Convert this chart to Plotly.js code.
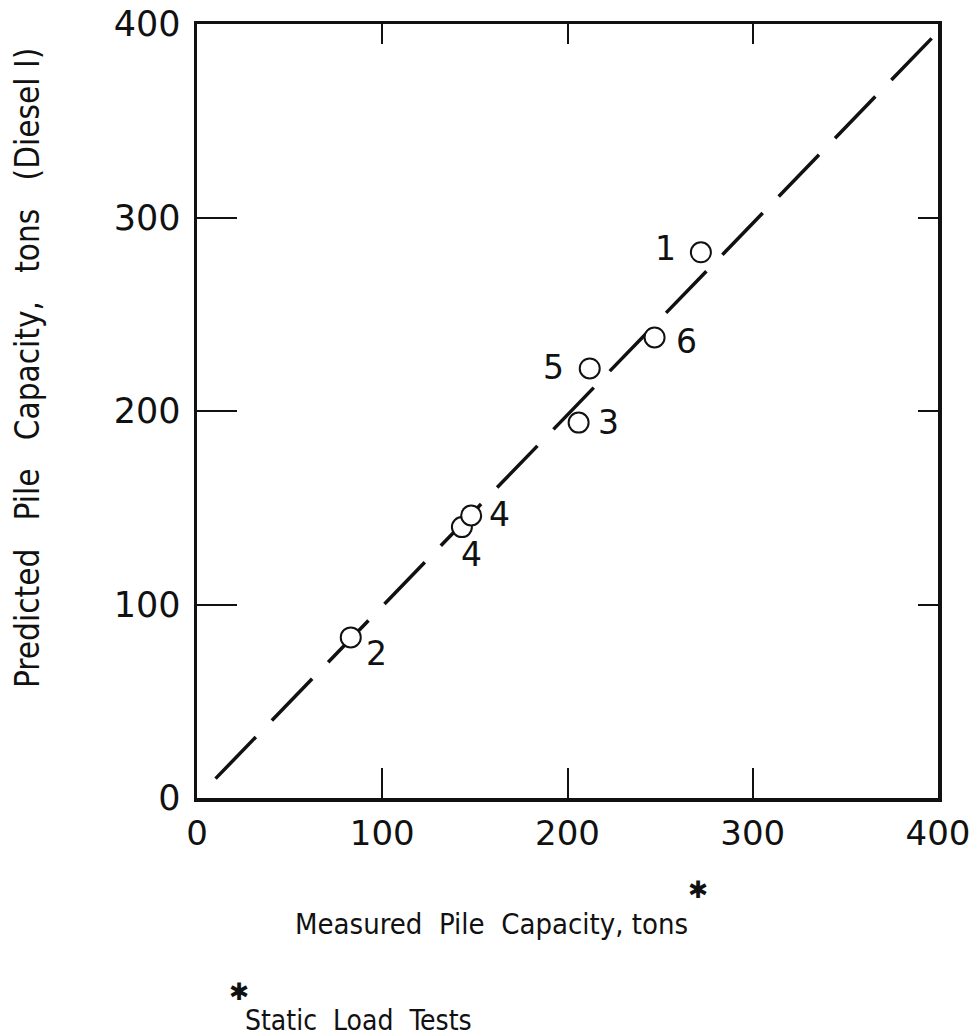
<!DOCTYPE html>
<html>
<head>
<meta charset="utf-8">
<script src="https://cdn.plot.ly/plotly-3.0.1.min.js"></script>
<style>html,body{margin:0;padding:0;background:#fff;}</style>
</head>
<body>
<div id="chart" style="width:975px;height:1036px;"></div>
<script>
// Measured vs predicted pile capacity (tons)
const measured  = [83, 143, 148, 206, 212, 247, 272];
const predicted = [83, 140, 146, 194, 222, 238, 282];
const pileLabels = ['2', '4', '4', '3', '5', '6', '1'];
const lineX = [10, 397];
const lineY = [10, 393];
const tickVals = [0, 100, 200, 300, 400];
const tickText = ['0', '100', '200', '300', '400'];

// label offsets (pixels) relative to each point
const labelDx = [26, 10, 28, 30, -36, 32, -35];
const labelDy = [-16, -27, 1, 0, 1, -4, 4];

const FONT = 'DejaVu Sans, sans-serif';
const FONT_C = '"DejaVu Sans Condensed", "Liberation Sans Narrow", "DejaVu Sans", sans-serif';
const INK = '#111';

const traces = [
  {
    x: lineX, y: lineY, type: 'scatter', mode: 'lines',
    line: {color: INK, width: 3.5, dash: '58px,23px'},
    hoverinfo: 'skip', showlegend: false
  },
  {
    x: measured, y: predicted, type: 'scatter', mode: 'markers',
    marker: {symbol: 'circle', size: 20, color: '#fff', line: {color: INK, width: 2}},
    showlegend: false
  },
  // overlay axes for the short top/right ticks
  {x: [0], y: [0], xaxis: 'x2', yaxis: 'y2', mode: 'markers', marker: {opacity: 0}, hoverinfo: 'skip', showlegend: false}
];

const annotations = measured.map((m, i) => ({
  x: m, y: predicted[i], xref: 'x', yref: 'y', text: pileLabels[i],
  showarrow: false, xshift: labelDx[i], yshift: labelDy[i],
  font: {family: FONT, size: 33, color: INK}
}));

// paper coords helpers: plot area l=197..938, t=24..798
const px = v => (v - 197) / 741;
const py = v => (798 - v) / 774;

annotations.push(
  {xref: 'paper', yref: 'paper', x: px(491), y: py(924), xanchor: 'center', yanchor: 'middle',
   text: 'Measured  Pile  Capacity, tons',
   showarrow: false, font: {family: FONT_C, size: 29, color: INK}},
  {xref: 'paper', yref: 'paper', x: px(698), y: py(890), xanchor: 'center', yanchor: 'middle', text: '✱',
   showarrow: false, font: {family: FONT, size: 24, color: INK}},
  {xref: 'paper', yref: 'paper', x: px(239), y: py(992), xanchor: 'center', yanchor: 'middle', text: '✱',
   showarrow: false, font: {family: FONT, size: 24, color: INK}},
  {xref: 'paper', yref: 'paper', x: px(358), y: py(1020), xanchor: 'center', yanchor: 'middle',
   text: 'Static  Load  Tests',
   showarrow: false, font: {family: FONT_C, size: 28, color: INK}},
  {xref: 'paper', yref: 'paper', x: px(27), y: py(368), xanchor: 'center', yanchor: 'middle',
   text: 'Predicted   Pile   Capacity,   tons   (Diesel I)',
   textangle: -90, showarrow: false, font: {family: FONT_C, size: 33, color: INK}}
);

const layout = {
  width: 975, height: 1036,
  margin: {l: 197, r: 37, t: 24, b: 238},
  paper_bgcolor: '#fff', plot_bgcolor: '#fff',
  showlegend: false,
  font: {family: FONT, color: INK},
  xaxis: {
    range: [0, 400], tickvals: tickVals, ticktext: tickText,
    ticks: 'inside', ticklen: 30, tickwidth: 2, tickcolor: INK,
    showline: true, linecolor: INK, linewidth: 3.5, mirror: true,
    showgrid: false, zeroline: false, ticklabelstandoff: 3,
    tickfont: {family: FONT, size: 34, color: INK}
  },
  yaxis: {
    range: [0, 400], tickvals: tickVals, ticktext: tickText,
    ticks: 'inside', ticklen: 40, tickwidth: 2, tickcolor: INK,
    showline: true, linecolor: INK, linewidth: 3.5, mirror: true,
    showgrid: false, zeroline: false, ticklabelstandoff: 6,
    tickfont: {family: FONT, size: 35, color: INK}
  },
  xaxis2: {
    overlaying: 'x', side: 'top', range: [0, 400], tickvals: [100, 200, 300],
    ticks: 'inside', ticklen: 20, tickwidth: 2, tickcolor: INK,
    showticklabels: false, showgrid: false, zeroline: false, showline: false
  },
  yaxis2: {
    overlaying: 'y', side: 'right', range: [0, 400], tickvals: [100, 200, 300],
    ticks: 'inside', ticklen: 20, tickwidth: 2, tickcolor: INK,
    showticklabels: false, showgrid: false, zeroline: false, showline: false
  },
  annotations: annotations
};

Plotly.newPlot('chart', traces, layout, {displayModeBar: false, staticPlot: true});
</script>
</body>
</html>
